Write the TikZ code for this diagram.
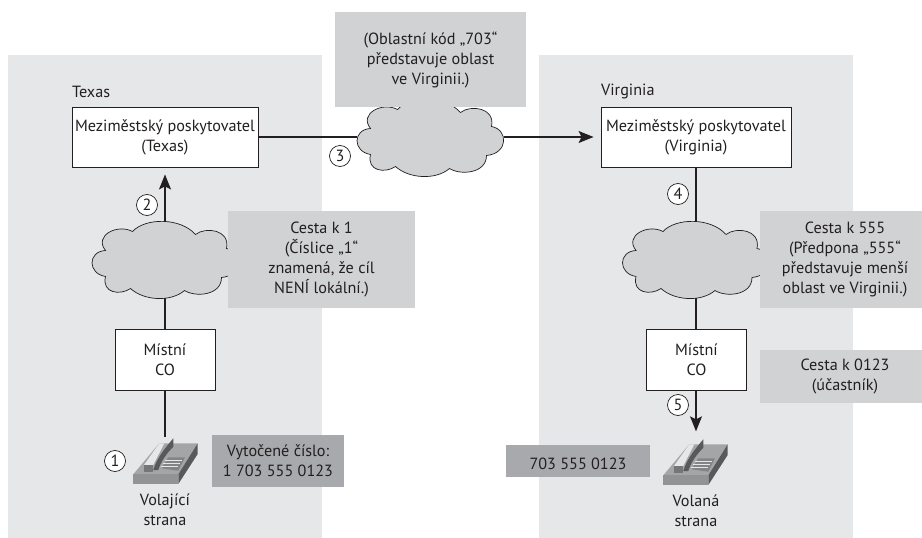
\documentclass[tikz,border=0pt]{standalone}
\usepackage{fontspec}
\setmainfont{PT Sans}
\usepackage{xcolor}
\usepackage{tikz}
\usetikzlibrary{positioning, arrows.meta}
\definecolor{panelgray}{HTML}{E6E7E8}
\definecolor{notegray}{HTML}{D0D2D3}
\definecolor{dialgray}{HTML}{A7A9AC}
\definecolor{inkdark}{HTML}{231F20}
\definecolor{phonetop}{HTML}{A4A5A7}
\definecolor{phonefront}{HTML}{929395}
\definecolor{phoneside}{HTML}{58595B}

\begin{document}
\begin{tikzpicture}[
    x=1pt, y=-1pt,
    every node/.style={font=\fontsize{16.2}{20}\selectfont, text=inkdark},
    panel/.style={fill=panelgray},
    textnudge/.style={execute at begin node={\rule{0pt}{16.5pt}}},
    routerbox/.style={rectangle, textnudge, draw=inkdark, line width=0.9pt, fill=white, align=center, inner sep=0pt},
    notebox/.style={rectangle, textnudge, fill=notegray, align=center, inner sep=0pt},
    dialbox/.style={rectangle, textnudge, fill=dialgray, align=center, inner sep=0pt},
    cloudslot/.style={rectangle, minimum width=146pt, minimum height=77pt, inner sep=0pt},
    phoneslot/.style={rectangle, minimum width=65pt, minimum height=47pt, inner sep=0pt},
    numcircle/.style={circle, draw=inkdark, line width=0.7pt, fill=white, minimum size=21pt, inner sep=0pt},
    plainlabel/.style={textnudge, align=center, inner sep=0pt},
    link/.style={draw=inkdark, line width=1.1pt},
    arrowlink/.style={link, -{Stealth[length=15pt, width=12pt, inset=3pt]}},
    netcloud/.pic={
        \draw[draw=inkdark, line width=0.7pt, fill=notegray]
            (-33,-28) .. controls (-20,-42) and (15,-42) .. (30,-25)
            .. controls (40,-33) and (65,-30) .. (61,-11)
            .. controls (78,-8) and (78,16) .. (56,18)
            .. controls (56,36) and (30,38) .. (19,31)
            .. controls (5,43) and (-22,41) .. (-35,29)
            .. controls (-45,36) and (-64,34) .. (-60,17)
            .. controls (-78,14) and (-78,-8) .. (-60,-9)
            .. controls (-72,-24) and (-48,-36) .. cycle;
    },
    deskphone/.pic={
        \fill[phonetop] (-31.7,13.3) -- (13.3,13.3) -- (32.7,-17.7) -- (-5.7,-17.7) -- cycle;
        \fill[phonefront] (-31.7,13.3) -- (13.3,13.3) -- (13.3,23) -- (-31.7,23) -- cycle;
        \fill[phoneside] (13.3,13.3) -- (32.7,-17.7) -- (32.7,-7) -- (13.3,23) -- cycle;
        \fill[panelgray] (-21,4) -- (-5.7,-17.7) -- (-0.7,-17.7) -- (-11.7,4) -- cycle;
        \fill[phonefront!80!black] (-21,4) -- (-11.7,4) -- (-11.7,10.7) -- (-21,10.7) -- cycle;
        \fill[phoneside] (-11.7,9) .. controls (-8,-4) and (2,-15) .. (8.3,-22.7) -- (8.3,-14.3) .. controls (2,-8) and (-4,0) .. (-6.7,9) -- cycle;
        \fill[phonefront!90!black] (-3.3,7.3) -- (3.3,-3.7) -- (20,-3.7) -- (13.3,9.7) -- cycle;
        \foreach \rowy in {-1,2,5} {
            \draw[panelgray, line width=0.6pt] (\rowy*-0.6+-0.6,\rowy) -- (\rowy*-0.6+16,\rowy);
        }
    }
]
\useasboundingbox (0,0) rectangle (922,538);
\clip (0,0) rectangle (922,538);

% Grey state panels
\fill[panel] (8,55) rectangle (322,538);
\fill[panel] (539,55) rectangle (853,538);

% Texas side
\node[plainlabel, anchor=west] (texaslabel) at (72,89) {Texas};
\node[routerbox, minimum width=186pt, minimum height=60pt] (boxtexas) at (165,137) {Meziměstský poskytovatel\\(Texas)};
\node[cloudslot] (cloudtexas) at (165.5,259.5) {};
\pic at (cloudtexas.center) {netcloud};
\node[routerbox, minimum width=100pt, minimum height=61pt] (cotexas) at (165,359.5) {Místní\\CO};
\node[phoneslot] (phonetexas) at (165,461) {};
\pic at (phonetexas.center) {deskphone};
\node[plainlabel] (calling) at (165,510) {Volající\\strana};

% Virginia side
\node[plainlabel, anchor=west] (virginialabel) at (601,89) {Virginia};
\node[routerbox, minimum width=190pt, minimum height=60pt] (boxvirginia) at (696,137) {Meziměstský poskytovatel\\(Virginia)};
\node[cloudslot] (cloudvirginia) at (696,259.5) {};
\pic at (cloudvirginia.center) {netcloud};
\node[routerbox, minimum width=100pt, minimum height=61pt] (covirginia) at (696.5,359.5) {Místní\\CO};
\node[phoneslot] (phonevirginia) at (695,462) {};
\pic at (phonevirginia.center) {deskphone};
\node[plainlabel] (called) at (696,510.5) {Volaná\\strana};

% Long distance cloud
\node[cloudslot] (cloudmid) at (430.5,137.5) {};
\pic at (cloudmid.center) {netcloud};

% Edges
\draw[arrowlink] (cloudtexas.north -| boxtexas.south) -- ([yshift=-7pt]boxtexas.south);
\draw[link] (cotexas.north) -- (cloudtexas.south -| cotexas.north);
\draw[link] (phonetexas.north) -- (cotexas.south);
\draw[link] (boxtexas.east) -- (cloudmid.west |- boxtexas.east);
\draw[arrowlink] (cloudmid.east |- boxvirginia.west) -- ([xshift=-7pt]boxvirginia.west);
\draw[link] (boxvirginia.south) -- (cloudvirginia.north);
\draw[link] (cloudvirginia.south) -- (covirginia.north -| cloudvirginia.south);
\draw[arrowlink] (covirginia.south -| boxvirginia.south) -- ([yshift=7pt]phonevirginia.north -| boxvirginia.south);

% Notes
\node[notebox, minimum width=191pt, minimum height=95pt] (notecode) at (430.5,59.5) {(Oblastní kód „703“\\představuje oblast\\ve Virginii.)};
\node[notebox, minimum width=187pt, minimum height=97pt] (noteone) at (321.5,259.5) {Cesta k 1\\(Číslice „1“\\znamená, že cíl\\NENÍ lokální.)};
\node[notebox, minimum width=170pt, minimum height=97pt] (noteprefix) at (845,259.5) {Cesta k 555\\(Předpona „555“\\představuje menší\\oblast ve Virginii.)};
\node[notebox, minimum width=170pt, minimum height=53pt] (notesub) at (845,376.5) {Cesta k 0123\\(účastník)};
\node[dialbox, minimum width=132pt, minimum height=52pt] (dialtexas) at (278,461) {Vytočené číslo:\\1 703 555 0123};
\node[dialbox, minimum width=144pt, minimum height=32pt] (dialvirginia) at (578,461) {703 555 0123};

% Step numbers
\node[numcircle] (stepone) at (115,461) {1};
\node[numcircle] (steptwo) at (147,205) {2};
\node[numcircle] (stepthree) at (340,156) {3};
\node[numcircle] (stepfour) at (678,194) {4};
\node[numcircle] (stepfive) at (678,405) {5};

\end{tikzpicture}
\end{document}
